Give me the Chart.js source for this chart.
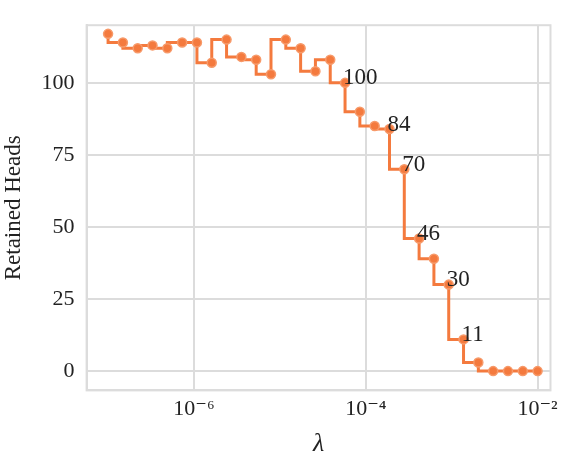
<!DOCTYPE html>
<html><head><meta charset="utf-8">
<script src="https://cdn.jsdelivr.net/npm/chart.js@4"></script>
<style>html,body{margin:0;padding:0;background:#fff}#w{width:564px;height:460px}</style>
</head><body><div id="w"><canvas id="c"></canvas></div>
<script>
const exponents = [];
for (let i = 0; i < 30; i++) exponents.push(-7 + 5 * i / 29);
const lambdas = exponents.map(e => Math.pow(10, e));
const heads = [117,114,112,113,112,114,114,107,115,109,108,103,115,112,104,108,100,90,85,84,70,46,39,30,11,3,0,0,0,0];
const labelled = [16,19,20,21,23,24];
const xTicks = [1e-6,1e-4,1e-2];
const xTickLabels = ['10⁻⁶','10⁻⁴','10⁻²'];
const yTicks = [0,25,50,75,100];
const color = '#F47A3E';
const serif = "'Liberation Serif','DejaVu Serif',serif";

const labelPlugin = {
  id: 'lbl',
  beforeDatasetsDraw(chart) {
    const a = chart.chartArea, ctx = chart.ctx;
    ctx.save();
    ctx.strokeStyle = '#dcdcdc'; ctx.lineWidth = 2;
    ctx.strokeRect(a.left, a.top, a.right - a.left, a.bottom - a.top);
    ctx.restore();
  },
  afterDatasetsDraw(chart) {
    const ctx = chart.ctx, meta = chart.getDatasetMeta(0);
    ctx.save();
    ctx.font = "23px " + serif;
    ctx.fillStyle = '#222';
    ctx.textBaseline = 'bottom';
    labelled.forEach(i => {
      const p = meta.data[i];
      ctx.fillText(String(heads[i]), p.x - 2, p.y + 7);
    });
    ctx.restore();
  }
};

new Chart(document.getElementById('c'), {
  type: 'line',
  data: { datasets: [{
    data: lambdas.map((x, i) => ({x, y: heads[i]})),
    borderColor: color, backgroundColor: color,
    borderWidth: 3, stepped: 'after',
    pointRadius: 4.5, pointBorderColor: '#F79A6A', pointBorderWidth: 1.5, pointBackgroundColor: color
  }]},
  options: {
    responsive: true, maintainAspectRatio: false, animation: false,
    layout: { padding: { top: 9, right: 11, left: 0, bottom: 0 } },
    plugins: { legend: { display: false }, tooltip: { enabled: false } },
    scales: {
      x: {
        type: 'logarithmic', min: Math.pow(10,-7.25), max: Math.pow(10,-1.85),
        afterBuildTicks: ax => { ax.ticks = xTicks.map(v => ({value: v})); },
        ticks: { font: { family: serif, size: 22 }, color: '#222', autoSkip: false, maxRotation: 0, padding: 6,
                 callback: (v) => { const k = xTicks.findIndex(t => Math.abs(t - v) / t < 1e-6); return k >= 0 ? xTickLabels[k] : ''; } },
        grid: { color: '#dcdcdc', lineWidth: 2, drawTicks: false },
        border: { color: '#dcdcdc', width: 2 },
        title: { display: true, text: 'λ', font: { family: serif, size: 26, style: 'italic' }, color: '#222', padding: { top: 0, bottom: 0 } }
      },
      y: {
        min: -6.7, max: 120,
        afterBuildTicks: ax => { ax.ticks = yTicks.map(v => ({value: v})); },
        ticks: { font: { family: serif, size: 22 }, color: '#222', padding: 12 },
        grid: { color: '#dcdcdc', lineWidth: 2, drawTicks: false },
        border: { color: '#dcdcdc', width: 2 },
        title: { display: true, text: 'Retained Heads', font: { family: serif, size: 23 }, color: '#222', padding: { top: 0, bottom: 2 } }
      }
    }
  },
  plugins: [labelPlugin]
});
</script></body></html>
